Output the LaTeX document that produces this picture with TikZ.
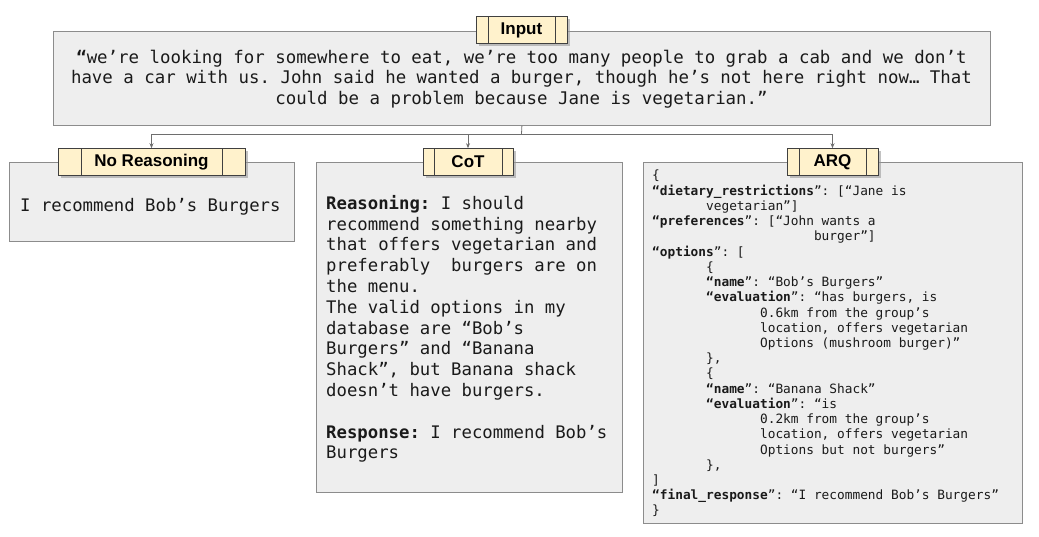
\documentclass[tikz,border=0pt]{standalone}
\usepackage{fontspec}
\usetikzlibrary{arrows.meta,shadows}
\newfontfamily\mono{DejaVu Sans Mono}
\newfontfamily\labfont{Liberation Sans}
\definecolor{boxfill}{HTML}{EEEEEE}
\definecolor{boxline}{HTML}{8C8C8C}
\definecolor{labfill}{HTML}{FFF2CC}
\definecolor{labline}{HTML}{404040}
\definecolor{conn}{HTML}{6E6E6E}
\definecolor{ink}{HTML}{1A1A1A}
\newcommand\ind[1]{\hspace*{#1\fontcharwd\font`0}}
\tikzset{
  panel/.style={draw=boxline, fill=boxfill, line width=0.8pt, inner sep=0pt, anchor=north west},
  lbl/.style={draw=labline, fill=labfill, line width=0.6pt, text=black,
    font=\labfont\bfseries\fontsize{17}{20}\selectfont, minimum height=27pt, inner sep=0pt,
    drop shadow={shadow xshift=2.5pt, shadow yshift=-2.5pt, fill=black!40, opacity=0.6},
    path picture={
      \draw[labline, line width=0.6pt] ([xshift=#1]path picture bounding box.north west) -- ([xshift=#1]path picture bounding box.south west);
      \draw[labline, line width=0.6pt] ([xshift=-#1]path picture bounding box.north east) -- ([xshift=-#1]path picture bounding box.south east);
    }},
  lbl/.default=12pt,
  txt/.style={inner sep=0pt, text=ink, align=left},
  conn/.style={draw=conn, line width=0.8pt},
  arr/.style={conn, -{Stealth[length=5pt,width=4pt]}}
}
\begin{document}
\begin{tikzpicture}[x=1pt,y=-1pt]
\path[use as bounding box] (0,0) rectangle (1039,536);
\frenchspacing
% panels
\node[panel, minimum width=937pt, minimum height=94pt] (inbox) at (53,31) {};
\node[panel, minimum width=285pt, minimum height=79pt] (nrbox) at (9,162) {};
\node[panel, minimum width=306pt, minimum height=330pt] (cotbox) at (316,162) {};
\node[panel, minimum width=379pt, minimum height=361pt] (arqbox) at (643,162) {};
% input text
\node[txt, align=center, font=\mono\fontsize{17.4}{20.6}\selectfont] (intext) at (521.5,79)
 {{\bfseries “}we’re looking for somewhere to eat, we’re too many people to grab a cab and we don’t\\
  have a car with us. John said he wanted a burger, though he’s not here right now… That\\
  could be a problem because Jane is vegetarian.”};
% no reasoning text
\node[txt, anchor=base west, font=\mono\fontsize{17.3}{20.8}\selectfont] (nrtext) at (20,211)
 {I recommend Bob’s Burgers};
% CoT text
\node[txt, anchor=north west, font=\mono\fontsize{17.3}{20.8}\selectfont] (cottext) at (326,195)
 {{\bfseries Reasoning:} I should\\
  recommend something nearby\\
  that offers vegetarian and\\
  preferably\ \ burgers are on\\
  the menu.\\
  The valid options in my\\
  database are “Bob’s\\
  Burgers” and “Banana\\
  Shack”, but Banana shack\\
  doesn’t have burgers.\\[20.8pt]
  {\bfseries Response:} I recommend Bob’s\\
  Burgers};
% ARQ text
\node[txt, anchor=north west, font=\mono\fontsize{12.8}{15.23}\selectfont] (arqtext) at (652,170)
 {\{\\
  {\bfseries “dietary\_restrictions}”: [“Jane is\\
  \ind{7}vegetarian”]\\
  {\bfseries “preferences}”: [“John wants a\\
  \ind{21}burger”]\\
  {\bfseries “options}”: [\\
  \ind{7}\{\\
  \ind{7}{\bfseries “name}”: “Bob’s Burgers”\\
  \ind{7}{\bfseries “evaluation}”: “has burgers, is\\
  \ind{14}0.6km from the group’s\\
  \ind{14}location, offers vegetarian\\
  \ind{14}Options (mushroom burger)”\\
  \ind{7}\},\\
  \ind{7}\{\\
  \ind{7}{\bfseries “name}”: “Banana Shack”\\
  \ind{7}{\bfseries “evaluation}”: “is\\
  \ind{14}0.2km from the group’s\\
  \ind{14}location, offers vegetarian\\
  \ind{14}Options but not burgers”\\
  \ind{7}\},\\
  ]\\
  {\bfseries “final\_response}”: “I recommend Bob’s Burgers”\\
  \}};
% connectors
\coordinate (junc) at (521.5,134);
\draw[conn] (inbox.south) -- (junc);
% labels
\node[lbl] (inlbl) at (521.5,30) [minimum width=91pt] {Input};
\node[lbl=23pt] (nrlbl) at (151.5,162) [minimum width=187pt] {No Reasoning};
\node[lbl=11pt] (cotlbl) at (468,162) [minimum width=90pt] {CoT};
\node[lbl] (arqlbl) at (832.5,162) [minimum width=91pt] {ARQ};
\draw[arr] (junc) -| (nrlbl.north);
\draw[arr] (junc) -| (cotlbl.north);
\draw[arr] (junc) -| (arqlbl.north);
\end{tikzpicture}
\end{document}
